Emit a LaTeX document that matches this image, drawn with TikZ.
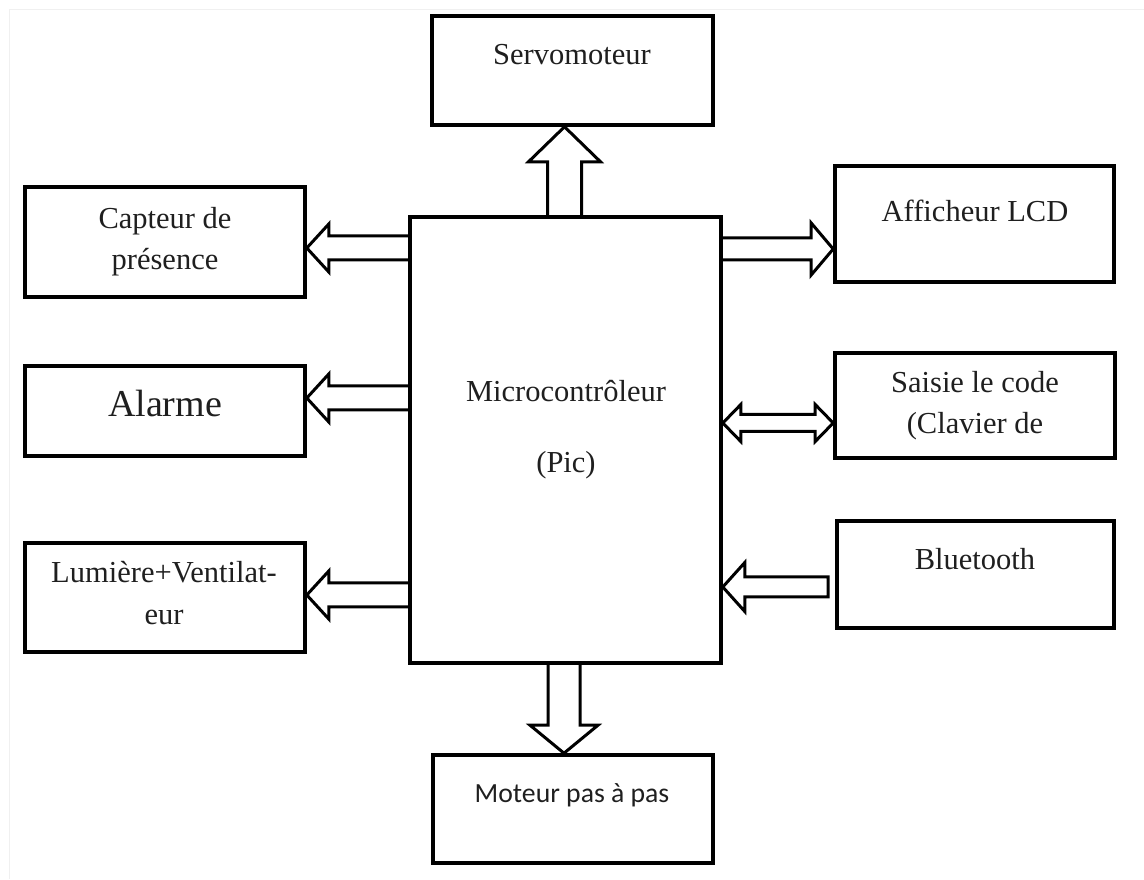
\documentclass[tikz,border=0pt]{standalone}
\usepackage{fontspec}
\setmainfont{Liberation Serif}
\newfontfamily\timesx{Liberation Serif}
\newfontfamily\calsans{Carlito}
\usetikzlibrary{calc,backgrounds}
\tikzset{
  box/.style={draw=black, line width=3.6pt, inner sep=0pt, minimum width=#1},
  lbl/.style={anchor=base, inner sep=0pt, font=\timesx\fontsize{30.5}{36}\selectfont, text=black!88},
  fat/.style={draw=black, fill=white, line width=3pt, line join=miter},
}
% horizontal fat arrow: #1 tail, #2 tip, #3 shaft half width, #4 head half width, #5 signed head length, #6 closing
\newcommand\fatH[6]{%
  \filldraw[fat] ($(#1)+(0,#3)$) -- ($(#2)+(#5,#3)$) -- ($(#2)+(#5,#4)$) -- (#2) -- ($(#2)+(#5,-#4)$) -- ($(#2)+(#5,-#3)$) -- ($(#1)+(0,-#3)$) #6;}
\newcommand\fatV[6]{%
  \filldraw[fat] ($(#1)+(#3,0)$) -- ($(#2)+(#3,#5)$) -- ($(#2)+(#4,#5)$) -- (#2) -- ($(#2)+(-#4,#5)$) -- ($(#2)+(-#3,#5)$) -- ($(#1)+(-#3,0)$) #6;}
\begin{document}
\begin{tikzpicture}[x=1pt, y=1pt]
\useasboundingbox (0,0) rectangle (1144,879);
\draw[black!6, line width=1pt] (9,0) -- (9,869) -- (1144,869);

% boxes
\node[box=281pt, minimum height=109pt] (servo) at (572.5,808.5) {};
\node[box=280pt, minimum height=110pt] (capteur) at (165,637) {};
\node[box=280pt, minimum height=90pt] (alarme) at (165,468) {};
\node[box=280pt, minimum height=109pt] (lumiere) at (165,281.5) {};
\node[box=311pt, minimum height=446pt] (micro) at (565.5,439) {};
\node[box=279pt, minimum height=116pt] (affich) at (974.5,655) {};
\node[box=280pt, minimum height=105pt] (saisie) at (975,473.5) {};
\node[box=277pt, minimum height=107pt] (blue) at (975.5,304.5) {};
\node[box=280pt, minimum height=108pt] (moteur) at (573,70) {};

% texts
\node[lbl] (tservo) at (572,814) {Servomoteur};
\node[lbl] (tcap1) at (165,650) {Capteur de};
\node[lbl] (tcap2) at (165,609) {présence};
\node[lbl, font=\timesx\fontsize{38}{44}\selectfont] (talarme) at (165,462) {Alarme};
\node[lbl] (tlum1) at (164,296) {Lumière+Ventilat-};
\node[lbl] (tlum2) at (164,254) {eur};
\node[lbl] (tmic1) at (566,477) {Microcontrôleur};
\node[lbl] (tmic2) at (566,406) {(Pic)};
\node[lbl] (taff) at (975,657) {Afficheur LCD};
\node[lbl] (tsai1) at (975,486) {Saisie le code};
\node[lbl] (tsai2) at (975,445) {(Clavier de};
\node[lbl] (tblue) at (975,309) {Bluetooth};
\node[lbl, font=\calsans\fontsize{27.7}{33}\selectfont] (tmot) at (572,77) {Moteur pas à pas};

% anchor points of the connectors
\coordinate (sv0) at (micro.north -| 564.5,0);
\coordinate (sv1) at (servo.south -| 564.5,0);
\coordinate (cp0) at (micro.west |- 0,631);
\coordinate (cp1) at (capteur.east |- 0,631);
\coordinate (al0) at (micro.west |- 0,481);
\coordinate (al1) at (alarme.east |- 0,481);
\coordinate (lu0) at (micro.west |- 0,284);
\coordinate (lu1) at (lumiere.east |- 0,284);
\coordinate (af0) at (micro.east |- 0,630);
\coordinate (af1) at (affich.west |- 0,630);
\coordinate (sa0) at (micro.east |- 0,456);
\coordinate (sa1) at (saisie.west |- 0,456);
\coordinate (bl0) at ($(blue.west |- 0,292)+(-7,0)$);
\coordinate (bl1) at (micro.east |- 0,292);
\coordinate (mo0) at (micro.south -| 564,0);
\coordinate (mo1) at (moteur.north -| 564,0);

\begin{scope}[on background layer]
\fatV{sv0}{sv1}{17}{36}{-35}{}
\fatH{cp0}{cp1}{12}{24}{22}{}
\fatH{al0}{al1}{12}{24}{22}{}
\fatH{lu0}{lu1}{12}{24}{22}{}
\fatH{af0}{af1}{11}{26}{-22}{}
\fatH{bl0}{bl1}{10}{24.5}{22}{-- cycle}
\fatV{mo0}{mo1}{16}{34}{28}{}
\filldraw[fat] (sa0) -- ($(sa0)+(18,18.5)$) -- ($(sa0)+(18,8.5)$) -- ($(sa1)+(-18,8.5)$) -- ($(sa1)+(-18,18.5)$) -- (sa1)
  -- ($(sa1)+(-18,-18.5)$) -- ($(sa1)+(-18,-8.5)$) -- ($(sa0)+(18,-8.5)$) -- ($(sa0)+(18,-18.5)$) -- cycle;
\end{scope}
\end{tikzpicture}
\end{document}
